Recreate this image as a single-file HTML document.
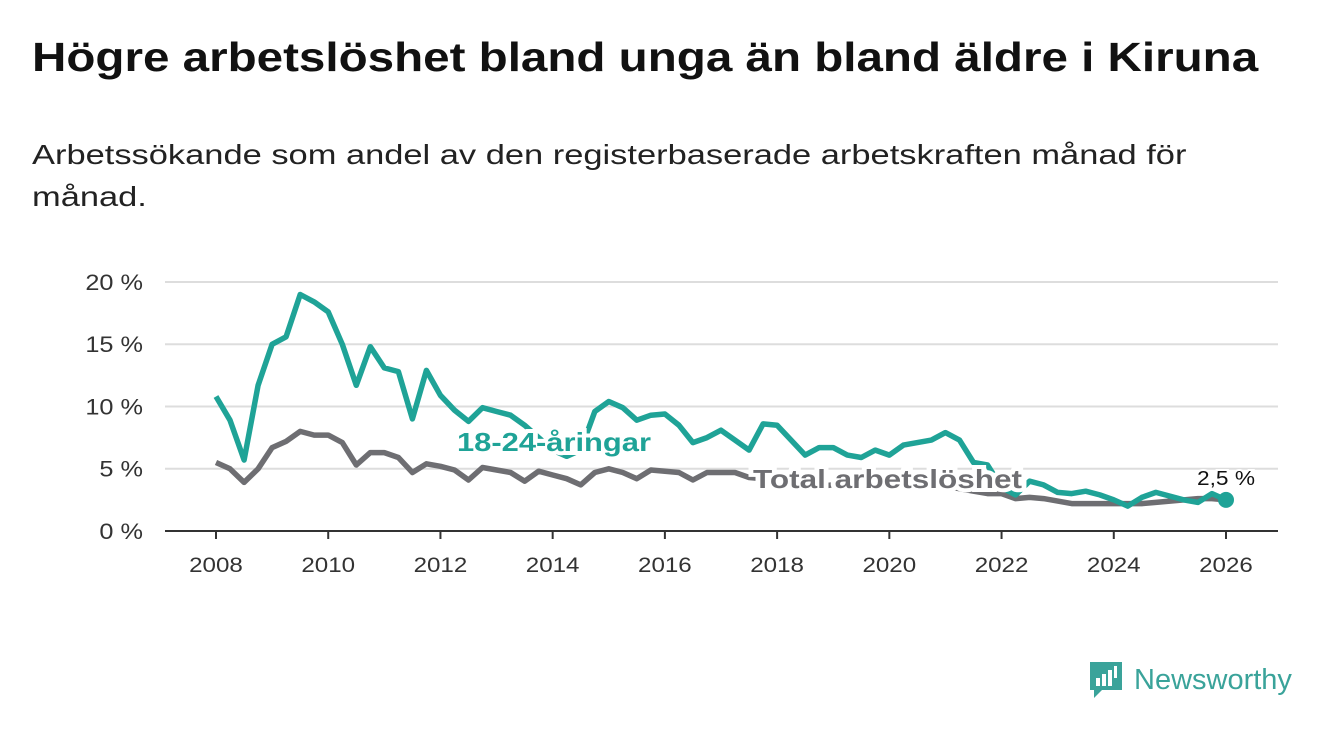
<!DOCTYPE html>
<html><head><meta charset="utf-8"><style>
body{margin:0;width:1340px;height:734px;background:#fff;font-family:"Liberation Sans","DejaVu Sans",sans-serif;overflow:hidden;position:relative}
h1{position:absolute;left:32px;top:34px;margin:0;font-size:41px;font-weight:bold;color:#111;transform:scaleX(1.16);transform-origin:0 0;white-space:nowrap}
.sub{position:absolute;left:32px;top:134px;margin:0;font-size:28px;color:#222;line-height:42px;white-space:nowrap;transform:scaleX(1.23);transform-origin:0 0}
svg{position:absolute;left:0;top:0}
.logo{position:absolute;left:1088px;top:660px;display:flex;align-items:center;gap:10px;color:#3aa39a;font-size:29px}
</style></head><body>
<h1>Högre arbetslöshet bland unga än bland äldre i Kiruna</h1>
<p class="sub">Arbetssökande som andel av den registerbaserade arbetskraften månad för<br>månad.</p>
<svg id="chart" width="1340" height="734"></svg>
<div class="logo">
<svg width="36" height="40" viewBox="0 0 36 40" style="position:static"><path d="M2 2h32v28H14l-8 8v-8H2z" fill="#3aa39a"/><rect x="8" y="18" width="4" height="8" fill="#fff"/><rect x="14" y="14" width="4" height="12" fill="#fff"/><rect x="20" y="10" width="4" height="16" fill="#fff"/><rect x="26" y="6" width="3" height="12" fill="#fff"/></svg>
<span>Newsworthy</span></div>
<script>
const startYear = 2008;
const youth = [10.8,8.9,5.7,11.7,15,15.6,19,18.4,17.6,15,11.7,14.8,13.1,12.8,9,12.9,10.9,9.7,8.8,9.9,9.6,9.3,8.5,7.5,6.5,6.0,6.5,9.6,10.4,9.9,8.9,9.3,9.4,8.5,7.1,7.5,8.1,7.3,6.5,8.6,8.5,7.3,6.1,6.7,6.7,6.1,5.9,6.5,6.1,6.9,7.1,7.3,7.9,7.3,5.5,5.3,3.5,2.9,4.0,3.7,3.1,3.0,3.2,2.9,2.5,2.0,2.7,3.1,2.8,2.5,2.3,3.0,2.5];
const total = [5.5,5.0,3.9,5.0,6.7,7.2,8.0,7.7,7.7,7.1,5.3,6.3,6.3,5.9,4.7,5.4,5.2,4.9,4.1,5.1,4.9,4.7,4.0,4.8,4.5,4.2,3.7,4.7,5.0,4.7,4.2,4.9,4.8,4.7,4.1,4.7,4.7,4.7,4.3,4.2,4.0,3.8,3.7,3.6,3.7,3.8,3.6,3.5,3.7,3.9,4.0,3.8,3.6,3.4,3.2,3.0,3.0,2.6,2.7,2.6,2.4,2.2,2.2,2.2,2.2,2.2,2.2,2.3,2.4,2.5,2.6,2.6,2.5];
const yTicks = [0,5,10,15,20];
const xTicks = [2008,2010,2012,2014,2016,2018,2020,2022,2024,2026];
const NS='http://www.w3.org/2000/svg';
const svg=document.getElementById('chart');
const x=y=>216+(y-2008)*(1010/18);
const yS=v=>531-v*12.45;
function mk(t,a){const e=document.createElementNS(NS,t);for(const k in a)e.setAttribute(k,a[k]);svg.appendChild(e);return e;}
yTicks.forEach(v=>{
  const l=mk('line',{x1:165,x2:1278,y1:yS(v),y2:yS(v),stroke:v===0?'#333':'#ddd','stroke-width':2});
  
  
  const t=mk('text',{x:143,y:yS(v)+8,'text-anchor':'end','font-size':22,fill:'#333','transform':'translate(143,0) scale(1.15,1) translate(-143,0)'});t.textContent=v+' %';
  
  
});
xTicks.forEach(v=>{
  const l=mk('line',{x1:x(v),x2:x(v),y1:531,y2:539,stroke:'#333','stroke-width':2});
  
  
  const t=mk('text',{x:x(v),y:572,'text-anchor':'middle','font-size':21,fill:'#333','transform':`translate(${x(v)},0) scale(1.15,1) translate(${-x(v)},0)`});t.textContent=v;
  
  
});
function path(arr){return arr.map((v,i)=>(i?'L':'M')+x(startYear+i/4).toFixed(1)+','+yS(v).toFixed(1)).join('');}
const pt=mk('path',{d:path(total),fill:'none',stroke:'#6e6e72','stroke-width':5.5,'stroke-linejoin':'round'});


const py=mk('path',{d:path(youth),fill:'none',stroke:'#1fa397','stroke-width':5.5,'stroke-linejoin':'round'});


const last=youth.length-1;
const dot=mk('circle',{cx:x(startYear+last/4),cy:yS(youth[last]),r:8,fill:'#1fa397'});


const lv=mk('text',{x:x(startYear+last/4),y:yS(youth[last])-15,'text-anchor':'middle','font-size':20,fill:'#111',stroke:'#fff','stroke-width':4,'paint-order':'stroke',textLength:58,lengthAdjust:'spacingAndGlyphs'});lv.textContent=youth[last].toString().replace('.',',')+' %';


const l1=mk('text',{x:457,y:451,'font-size':26,'font-weight':'bold',fill:'#1fa397',stroke:'#fff','stroke-width':8,'paint-order':'stroke',textLength:194,lengthAdjust:'spacingAndGlyphs'});l1.textContent='18-24-åringar';


const l2=mk('text',{x:753,y:488,'font-size':26,'font-weight':'bold',fill:'#6e6e72',stroke:'#fff','stroke-width':8,'paint-order':'stroke',textLength:269,lengthAdjust:'spacingAndGlyphs'});l2.textContent='Total arbetslöshet';


</script>
</body></html>
